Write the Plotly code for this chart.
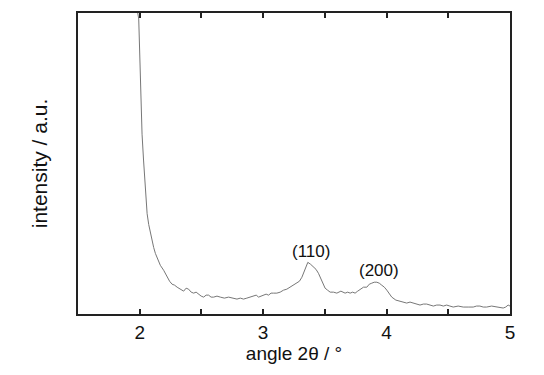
import plotly.graph_objects as go

angle = [1.957, 1.984, 1.992, 2.005, 2.019, 2.031, 2.044, 2.060, 2.073, 2.087, 2.100, 2.113,
         2.127, 2.147, 2.167, 2.194, 2.222, 2.242, 2.262, 2.283, 2.303, 2.330, 2.356, 2.376,
         2.396, 2.417, 2.437, 2.457, 2.477, 2.498, 2.518, 2.538, 2.558, 2.578, 2.599, 2.626,
         2.653, 2.686, 2.720, 2.754, 2.788, 2.815, 2.841, 2.868, 2.896, 2.920, 2.944, 2.963,
         2.983, 3.003, 3.024, 3.044, 3.064, 3.084, 3.111, 3.138, 3.165, 3.192, 3.219, 3.246,
         3.273, 3.294, 3.314, 3.328, 3.341, 3.362, 3.385, 3.408, 3.428, 3.448, 3.462, 3.476,
         3.489, 3.502, 3.522, 3.543, 3.570, 3.597, 3.630, 3.664, 3.685, 3.705, 3.725, 3.745,
         3.766, 3.786, 3.813, 3.840, 3.860, 3.880, 3.900, 3.921, 3.941, 3.961, 3.982, 4.002,
         4.022, 4.042, 4.075, 4.109, 4.136, 4.163, 4.190, 4.217, 4.244, 4.271, 4.298, 4.325,
         4.352, 4.379, 4.406, 4.433, 4.460, 4.487, 4.513, 4.540, 4.580, 4.621, 4.661, 4.702,
         4.729, 4.756, 4.783, 4.811, 4.851, 4.892, 4.918, 4.945, 4.965, 4.985, 5.000]
intensity = [400, 303, 297, 240, 181, 155, 134, 101, 90, 81, 74, 67,
             61, 54, 49, 44, 37, 33, 30, 29, 27, 25, 23, 26,
             25, 22, 21, 22, 20, 18, 17, 19, 19, 17, 17, 18,
             17, 16, 17, 16, 15, 16, 15, 16, 17, 18, 19, 17,
             18, 19, 20, 19, 21, 21, 21, 22, 24, 25, 27, 29,
             31, 33, 37, 41, 46, 52, 50, 47, 45, 41, 37, 32,
             29, 26, 24, 22, 22, 21, 23, 21, 22, 21, 22, 21,
             23, 25, 27, 27, 30, 31, 32, 32, 31, 29, 27, 24,
             20, 17, 14, 13, 12, 11, 12, 11, 10, 9, 10, 10,
             9, 8, 9, 9, 8, 9, 8, 7, 8, 7, 7, 7,
             8, 8, 7, 7, 8, 7, 7, 6, 7, 9, 8]

peak_labels = ["(110)", "(200)"]
peak_angles = [3.385, 3.935]
peak_label_heights = [63, 44]

x_tickvals = [2, 3, 4, 5]
x_ticktext = ["2", "3", "4", "5"]
x_title = "angle 2θ / °"
y_title = "intensity / a.u."

FONT = "Liberation Sans, Arial, sans-serif"

fig = go.Figure()
fig.add_trace(go.Scatter(
    x=angle, y=intensity, mode="lines",
    line=dict(color="#777777", width=1),
    showlegend=False, hoverinfo="skip",
))

for lab, xa, ya in zip(peak_labels, peak_angles, peak_label_heights):
    fig.add_annotation(x=xa, y=ya, text=lab, showarrow=False,
                       font=dict(size=17, color="#111", family=FONT))

fig.update_layout(
    width=544, height=375,
    margin=dict(l=77.5, r=34, t=11, b=61),
    paper_bgcolor="white", plot_bgcolor="white",
    font=dict(family=FONT, color="#111"),
    xaxis=dict(
        range=[1.5, 5], tickvals=x_tickvals, ticktext=x_ticktext,
        ticks="inside", ticklen=5, tickwidth=1.5, tickcolor="#222",
        minor=dict(ticks="inside", dtick=0.5, tick0=0, ticklen=5, tickwidth=1.5, tickcolor="#222"),
        showline=True, linecolor="#222", linewidth=1.5, mirror="ticks",
        showgrid=False, zeroline=False,
        tickfont=dict(size=19),
        title=dict(text=x_title, font=dict(size=19), standoff=0),
    ),
    yaxis=dict(
        range=[0, 303], showticklabels=False, ticks="",
        showline=True, linecolor="#222", linewidth=1.5, mirror=True,
        showgrid=False, zeroline=False,
        title=dict(text=y_title, font=dict(size=21), standoff=23),
    ),
)

fig.write_html("out.html")
